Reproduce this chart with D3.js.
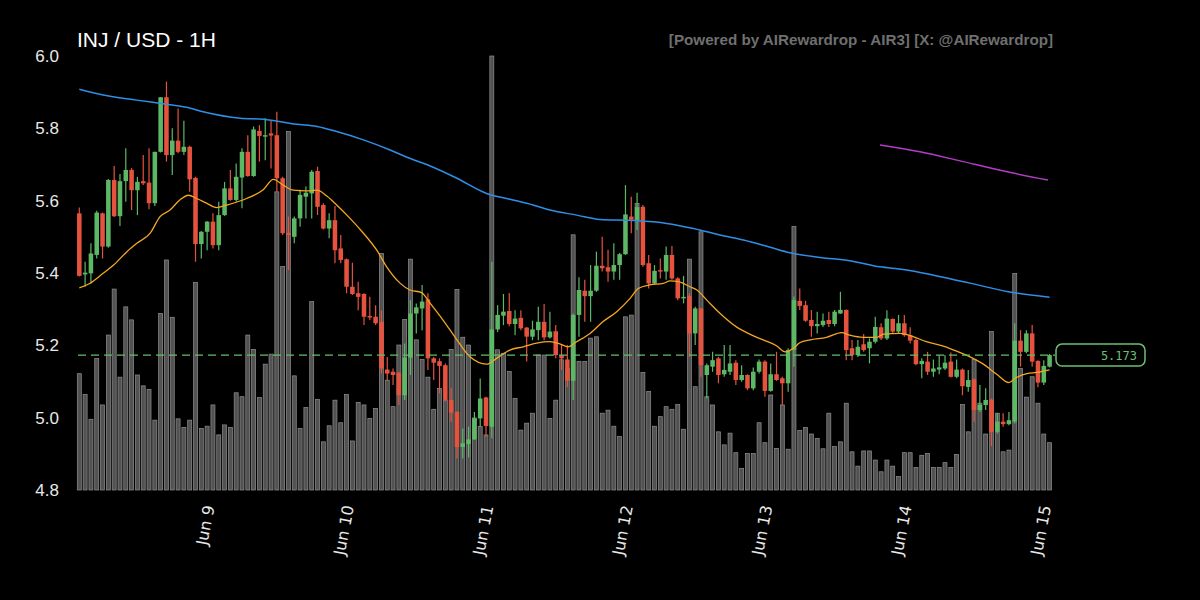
<!DOCTYPE html>
<html>
<head>
<meta charset="utf-8">
<script src="https://cdn.jsdelivr.net/npm/d3@7"></script>
<style>
  html, body { margin: 0; padding: 0; background: #000; }
  svg { display: block; }
</style>
</head>
<body>
<div id="chart"></div>
<script>
// INJ / USD hourly candles, Jun 8 02:00 -> Jun 15 01:00
const opens = [
  5.565,5.396,5.399,5.450,5.565,5.473,5.657,5.557,5.654,5.685,
  5.629,5.654,5.650,5.593,5.735,5.886,5.726,5.766,5.735,5.749,
  5.663,5.480,5.514,5.542,5.477,5.560,5.634,5.602,5.664,5.735,
  5.668,5.793,5.777,5.786,5.781,5.662,5.511,5.500,5.551,5.611,
  5.620,5.682,5.588,5.523,5.546,5.468,5.438,5.362,5.344,5.342,
  5.281,5.279,5.265,5.133,5.127,5.124,5.062,5.166,5.288,5.302,
  5.327,5.164,5.156,5.145,5.049,5.016,4.919,4.927,4.940,4.998,
  5.056,4.975,5.244,5.282,5.295,5.259,5.276,5.249,5.224,5.242,
  5.265,5.222,5.239,5.173,5.161,5.102,5.284,5.351,5.336,5.351,
  5.420,5.416,5.404,5.422,5.452,5.556,5.545,5.583,5.427,5.371,
  5.408,5.404,5.450,5.385,5.330,5.336,5.233,5.302,5.118,5.141,
  5.164,5.120,5.127,5.152,5.104,5.118,5.081,5.127,5.155,5.074,
  5.120,5.109,5.095,5.187,5.323,5.311,5.270,5.253,5.256,5.270,
  5.259,5.288,5.298,5.192,5.173,5.203,5.192,5.210,5.250,5.219,
  5.273,5.238,5.261,5.228,5.215,5.148,5.155,5.127,5.133,5.136,
  5.155,5.113,5.133,5.085,5.106,5.021,5.035,5.050,4.961,4.989,
  4.982,4.989,5.213,5.182,5.233,5.157,5.097,5.141
];
const highs = [
  5.581,5.431,5.482,5.572,5.567,5.660,5.696,5.674,5.745,5.690,
  5.666,5.726,5.745,5.735,5.886,5.929,5.800,5.855,5.821,5.752,
  5.666,5.516,5.544,5.565,5.597,5.652,5.685,5.703,5.745,5.781,
  5.805,5.809,5.828,5.823,5.846,5.666,5.556,5.556,5.630,5.639,
  5.685,5.694,5.593,5.565,5.585,5.505,5.440,5.428,5.376,5.344,
  5.334,5.311,5.297,5.168,5.136,5.127,5.205,5.325,5.316,5.367,
  5.344,5.168,5.164,5.150,5.081,5.018,4.970,4.975,5.016,5.108,
  5.058,5.431,5.311,5.342,5.345,5.297,5.297,5.251,5.268,5.307,
  5.314,5.293,5.256,5.201,5.201,5.288,5.388,5.381,5.422,5.459,
  5.500,5.464,5.482,5.455,5.643,5.611,5.622,5.588,5.450,5.422,
  5.440,5.473,5.475,5.388,5.392,5.344,5.307,5.304,5.150,5.182,
  5.168,5.201,5.201,5.159,5.145,5.120,5.139,5.161,5.159,5.150,
  5.182,5.113,5.192,5.335,5.357,5.323,5.298,5.293,5.288,5.293,
  5.298,5.348,5.299,5.215,5.215,5.231,5.219,5.279,5.261,5.297,
  5.274,5.284,5.284,5.250,5.219,5.164,5.182,5.161,5.173,5.173,
  5.180,5.161,5.136,5.132,5.108,5.090,5.081,5.053,5.012,5.012,
  5.016,5.261,5.242,5.242,5.256,5.159,5.159,5.176
];
const lows = [
  5.390,5.362,5.371,5.440,5.440,5.470,5.555,5.530,5.597,5.574,
  5.560,5.643,5.576,5.585,5.733,5.708,5.671,5.731,5.726,5.625,
  5.431,5.440,5.463,5.468,5.463,5.558,5.600,5.597,5.579,5.666,
  5.666,5.708,5.712,5.689,5.625,5.505,5.408,5.482,5.528,5.551,
  5.551,5.560,5.520,5.496,5.427,5.427,5.344,5.339,5.297,5.256,
  5.270,5.256,5.122,5.104,5.090,5.035,5.049,5.118,5.233,5.242,
  5.132,5.104,5.067,5.045,4.989,4.887,4.887,4.890,4.938,4.975,
  4.947,4.943,5.237,5.256,5.253,5.228,5.242,5.155,5.214,5.214,
  5.214,5.219,5.164,5.132,5.085,5.049,5.224,5.265,5.265,5.348,
  5.404,5.376,5.381,5.381,5.450,5.510,5.519,5.417,5.357,5.369,
  5.385,5.381,5.381,5.325,5.316,5.168,5.201,5.113,5.053,5.127,
  5.095,5.113,5.118,5.090,5.099,5.076,5.076,5.122,5.058,5.072,
  5.102,5.035,5.072,5.141,5.298,5.265,5.224,5.233,5.251,5.251,
  5.253,5.287,5.159,5.159,5.168,5.182,5.150,5.205,5.215,5.215,
  5.233,5.233,5.224,5.205,5.145,5.109,5.118,5.113,5.120,5.132,
  5.111,5.109,5.062,5.072,4.989,5.016,5.021,4.921,4.956,4.975,
  4.979,4.984,5.141,5.178,5.141,5.084,5.090,5.139
];
const closes = [
  5.392,5.401,5.454,5.567,5.473,5.657,5.557,5.654,5.685,5.629,
  5.652,5.648,5.593,5.735,5.886,5.726,5.766,5.735,5.749,5.659,
  5.480,5.514,5.542,5.477,5.560,5.634,5.602,5.666,5.735,5.668,
  5.797,5.779,5.781,5.780,5.662,5.510,5.505,5.551,5.616,5.622,
  5.680,5.583,5.523,5.546,5.463,5.436,5.362,5.342,5.334,5.279,
  5.277,5.261,5.136,5.122,5.118,5.062,5.166,5.288,5.305,5.321,
  5.164,5.152,5.143,5.049,5.014,4.919,4.929,4.940,4.998,5.053,
  4.977,5.244,5.284,5.293,5.259,5.274,5.247,5.224,5.244,5.265,
  5.222,5.238,5.173,5.164,5.102,5.284,5.353,5.336,5.351,5.420,
  5.413,5.404,5.422,5.452,5.562,5.547,5.582,5.422,5.371,5.406,
  5.404,5.450,5.385,5.330,5.334,5.233,5.302,5.145,5.145,5.159,
  5.118,5.132,5.150,5.104,5.118,5.081,5.127,5.155,5.074,5.120,
  5.104,5.095,5.187,5.325,5.309,5.268,5.253,5.259,5.268,5.259,
  5.293,5.298,5.187,5.173,5.196,5.187,5.210,5.251,5.219,5.274,
  5.238,5.261,5.228,5.213,5.148,5.157,5.127,5.136,5.139,5.152,
  5.113,5.133,5.087,5.104,5.021,5.035,5.049,4.961,4.989,4.982,
  4.993,5.213,5.182,5.233,5.155,5.097,5.143,5.173
];
// volume, relative units (100 = tallest bar)
const volumes = [
  26.8,22.0,16.3,30.3,19.6,35.7,46.3,26.0,42.2,39.2,
  26.5,24.0,23.2,16.1,40.7,53.0,39.8,16.4,14.4,16.1,
  47.8,14.2,14.7,19.6,12.7,15.0,14.4,22.4,21.5,35.7,
  32.4,21.3,29.0,31.3,68.7,51.5,82.6,26.3,14.2,19.0,
  43.4,20.9,11.1,14.8,20.7,15.5,22.0,11.3,20.2,19.6,
  16.5,18.8,54.5,25.3,19.2,33.4,39.3,53.2,34.6,30.1,
  26.0,18.6,23.4,20.7,32.4,46.2,35.2,33.4,16.6,14.6,
  12.7,100,32.3,31.5,27.3,21.1,13.8,15.4,17.7,31.1,
  31.1,16.5,20.7,30.0,28.0,58.8,29.6,29.6,35.0,35.3,
  17.7,18.4,14.7,12.3,39.9,40.3,66.0,27.1,22.7,14.7,
  16.9,19.2,18.6,19.7,14.0,53.2,23.8,59.5,21.5,19.6,
  13.4,10.4,13.1,8.6,5.0,8.4,8.4,15.5,10.9,21.9,
  9.6,19.6,9.4,60.7,13.7,14.4,12.9,11.9,9.5,17.7,
  10.0,11.1,20.0,8.8,5.5,9.0,9.0,6.9,4.2,6.9,
  5.5,3.1,8.6,8.6,5.2,8.0,8.4,5.2,5.2,6.3,
  5.2,8.2,19.7,13.4,30.1,20.0,12.9,36.5,17.7,8.8,
  9.2,49.9,28.0,21.4,26.1,20.0,12.9,10.9
];

// moving averages as [hours since first candle, price]
const maFast = [
  [0,5.359],[1.8,5.371],[4.1,5.399],[5.9,5.422],[8.2,5.459],[9.9,5.482],[12.2,5.510],
  [13.9,5.556],[15.6,5.574],[17.3,5.602],[18.8,5.615],[20.2,5.606],[21.9,5.593],[23.6,5.581],
  [25.4,5.588],[28.8,5.606],[31.7,5.631],[33.4,5.659],[35.1,5.643],[36.8,5.629],[39.1,5.627],
  [40.9,5.629],[42.6,5.613],[44.3,5.588],[46.6,5.551],[48.9,5.510],[51.2,5.463],[52.9,5.417],
  [55.2,5.372],[56.9,5.353],[58.9,5.346],[60.4,5.316],[62.6,5.270],[65.0,5.215],[67.2,5.169],
  [70.1,5.148],[71.8,5.164],[74.1,5.187],[76.4,5.196],[78.7,5.206],[81.0,5.210],[82.7,5.204],
  [84.1,5.196],[85.6,5.210],[87.9,5.233],[90.1,5.265],[92.5,5.293],[94.8,5.330],[96.2,5.357],
  [98.2,5.367],[100.5,5.371],[101.7,5.378],[103.1,5.376],[105.1,5.362],[106.3,5.353],[108.0,5.325],
  [110.3,5.288],[113.1,5.251],[115.4,5.231],[117.7,5.215],[120.0,5.199],[121.5,5.182],[122.9,5.192],
  [124.0,5.207],[125.8,5.215],[128.6,5.222],[131.2,5.235],[132.6,5.228],[134.9,5.222],[137.2,5.222],
  [138.4,5.231],[141.3,5.233],[143.5,5.224],[145.8,5.210],[148.7,5.198],[151.0,5.184],[153.3,5.168],
  [155.6,5.148],[157.9,5.120],[160.0,5.097],[161.3,5.111],[163.1,5.122],[164.8,5.125],[167,5.132]
];
const maSlow = [
  [0,5.908],[4.1,5.892],[9.9,5.878],[15.6,5.865],[18.5,5.858],[21.3,5.846],[27.7,5.828],
  [31.7,5.825],[37.4,5.811],[40.9,5.805],[44.3,5.791],[48.9,5.768],[53.5,5.740],[56.4,5.720],
  [60.4,5.696],[65.0,5.662],[70.1,5.620],[74.1,5.604],[78.1,5.588],[81.0,5.574],[85.6,5.560],
  [89.6,5.548],[95.4,5.545],[101.1,5.537],[105.7,5.523],[110.3,5.505],[114.3,5.491],[118.9,5.471],
  [122.3,5.456],[127.5,5.443],[132.6,5.434],[137.8,5.417],[141.8,5.410],[147.6,5.392],[153.3,5.372],
  [159.9,5.348],[167,5.333]
];
const maLong = [[137.8,5.754],[144.7,5.735],[151.6,5.710],[158.5,5.684],[166.7,5.657]];

const yTicks = [4.8, 5.0, 5.2, 5.4, 5.6, 5.8, 6.0];
const lastPrice = 5.173;

const width = 1200, height = 600;
const green = "#5db866", red = "#e5533f";
const startTime = Date.UTC(2025, 5, 8, 2);
const hour = 3600e3;
const n = opens.length;

const candles = opens.map((o, i) => ({
  t: new Date(startTime + i * hour),
  o, h: highs[i], l: lows[i], c: closes[i], v: volumes[i]
}));

const svg = d3.select("#chart").append("svg")
  .attr("width", width)
  .attr("height", height)
  .style("background", "#000");

const x = d3.scaleUtc()
  .domain([new Date(startTime - hour / 2), new Date(startTime + (n - 0.5) * hour)])
  .range([76.4, 1052.5]);
const y = d3.scaleLinear().domain([4.8, 6.0]).range([490, 56]);
const yVol = d3.scaleLinear().domain([0, 100]).range([490, 56]);
const hx = h => x(new Date(startTime + h * hour));

// Title + watermark
svg.append("text")
  .attr("x", 77).attr("y", 47)
  .attr("fill", "#fff")
  .style("font-family", "'Liberation Sans', Arial, sans-serif")
  .style("font-size", "21px")
  .text("INJ / USD - 1H");

svg.append("text")
  .attr("x", 1053).attr("y", 45)
  .attr("text-anchor", "end")
  .attr("fill", "#6f6f6f")
  .style("font-family", "'Liberation Sans', Arial, sans-serif")
  .style("font-size", "15.2px")
  .style("font-weight", "bold")
  .text("[Powered by AIRewardrop - AIR3] [X: @AIRewardrop]");

// Y axis labels
const yAxis = svg.append("g")
  .attr("transform", "translate(62,0)")
  .call(d3.axisLeft(y).tickValues(yTicks).tickFormat(d3.format(".1f")).tickSize(0).tickPadding(3));
yAxis.select(".domain").remove();
yAxis.selectAll("text")
  .attr("fill", "#e8e8e8")
  .style("font-family", "'Liberation Sans', Arial, sans-serif")
  .style("font-size", "17px");

// X axis labels
const xAxis = svg.append("g")
  .attr("transform", "translate(0,490)")
  .call(d3.axisBottom(x).ticks(d3.utcDay.every(1)).tickFormat(d3.utcFormat("%b %-d")).tickSize(0));
xAxis.select(".domain").remove();
xAxis.selectAll("text")
  .attr("fill", "#e8e8e8")
  .style("font-family", "'DejaVu Sans', sans-serif")
  .style("font-size", "16px")
  .attr("text-anchor", "end")
  .attr("dy", 0)
  .attr("transform", "translate(4,16) rotate(-79)");

// Volume bars
const step = x(new Date(startTime + hour)) - x(new Date(startTime));
svg.append("g").selectAll("rect")
  .data(candles)
  .join("rect")
  .attr("x", d => x(d.t) - 2)
  .attr("y", d => yVol(d.v))
  .attr("width", 4)
  .attr("height", d => yVol(0) - yVol(d.v))
  .attr("fill", "#525252")
  .attr("stroke", "#909090")
  .attr("stroke-width", 0.7);

// Candles
const bodyW = step * 0.78;
const cg = svg.append("g").selectAll("g")
  .data(candles)
  .join("g");
cg.append("line")
  .attr("x1", d => x(d.t)).attr("x2", d => x(d.t))
  .attr("y1", d => y(d.h)).attr("y2", d => y(d.l))
  .attr("stroke", d => d.c >= d.o ? green : red)
  .attr("stroke-width", 1.2);
cg.append("rect")
  .attr("x", d => x(d.t) - bodyW / 2)
  .attr("y", d => y(Math.max(d.o, d.c)))
  .attr("width", bodyW)
  .attr("height", d => Math.max(1.2, Math.abs(y(d.o) - y(d.c))))
  .attr("fill", d => d.c >= d.o ? green : red);

// Moving averages
const line = d3.line().x(d => hx(d[0])).y(d => y(d[1])).curve(d3.curveMonotoneX);
svg.append("path").datum(maSlow).attr("d", line)
  .attr("fill", "none").attr("stroke", "#2f8fe6").attr("stroke-width", 1.5);
svg.append("path").datum(maLong).attr("d", line)
  .attr("fill", "none").attr("stroke", "#b43cc8").attr("stroke-width", 1.5);
svg.append("path").datum(maFast).attr("d", line)
  .attr("fill", "none").attr("stroke", "#f5a623").attr("stroke-width", 1.3);

// Last price line + tag
svg.append("line")
  .attr("x1", 78).attr("x2", 1055)
  .attr("y1", y(lastPrice)).attr("y2", y(lastPrice))
  .attr("stroke", "#62c062")
  .attr("stroke-width", 1.3)
  .attr("stroke-dasharray", "8,5");

svg.append("rect")
  .attr("x", 1056).attr("y", y(lastPrice) - 11)
  .attr("width", 89).attr("height", 22)
  .attr("rx", 6)
  .attr("fill", "#000")
  .attr("stroke", "#6cc070")
  .attr("stroke-width", 1.5);
svg.append("text")
  .attr("x", 1137).attr("y", y(lastPrice) + 4.5)
  .attr("text-anchor", "end")
  .attr("fill", "#6cc070")
  .style("font-family", "'DejaVu Sans Mono', monospace")
  .style("font-size", "12px")
  .text(lastPrice.toFixed(3));
</script>
</body>
</html>
